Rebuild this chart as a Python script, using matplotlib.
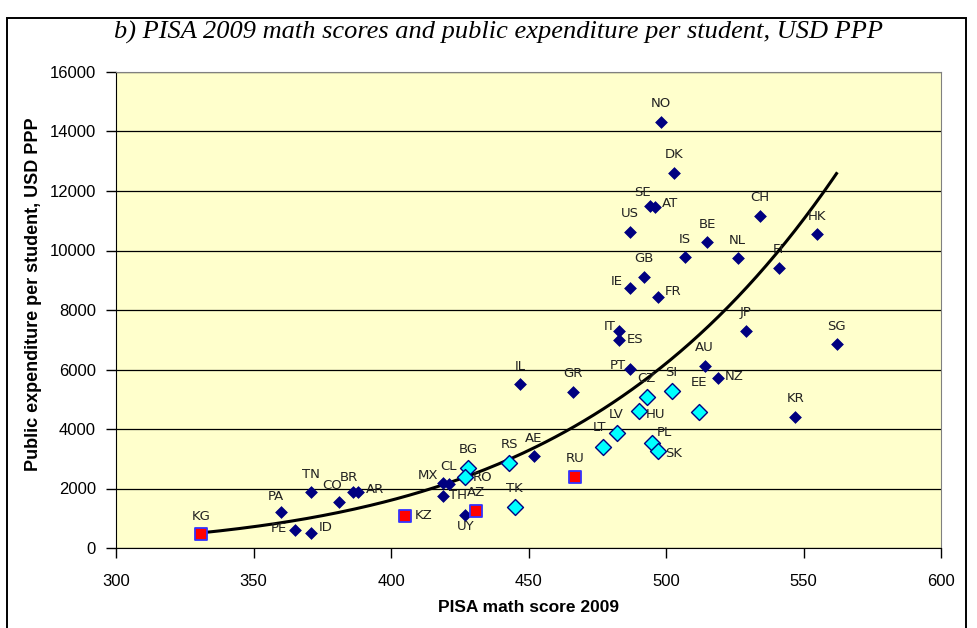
"""PISA 2009 math scores vs public expenditure per student."""

import matplotlib

matplotlib.use("Agg")
import matplotlib.pyplot as plt
import numpy as np
from matplotlib.patches import Rectangle

# OECD / high income countries (navy diamonds)
navy_codes = ["NO", "DK", "SE", "AT", "US", "CH", "HK", "BE", "IS", "NL", "FI",
              "GB", "IE", "FR", "IT", "ES", "JP", "SG", "AU", "NZ", "KR", "PT",
              "IL", "GR", "AE", "MX", "CL", "TH", "UY", "PA", "TN", "CO", "BR",
              "AR", "PE", "ID"]
navy_score = [498, 503, 494, 496, 487, 534, 555, 515, 507, 526, 541,
              492, 487, 497, 483, 483, 529, 562, 514, 519, 547, 487,
              447, 466, 452, 419, 421, 419, 427, 360, 371, 381, 386,
              388, 365, 371]
navy_spend = [14330, 12620, 11500, 11450, 10630, 11170, 10550, 10270, 9780,
              9740, 9420, 9110, 8740, 8430, 7300, 6990, 7300, 6850, 6120,
              5710, 4410, 6030, 5500, 5260, 3090, 2200, 2140, 1750, 1120,
              1200, 1870, 1560, 1870, 1870, 610, 520]

# transition economies (cyan diamonds)
cyan_codes = ["CZ", "SI", "HU", "EE", "LV", "LT", "PL", "SK", "RS", "BG",
              "RO", "TK"]
cyan_score = [493, 502, 490, 512, 482, 477, 495, 497, 443, 428, 427, 445]
cyan_spend = [5090, 5280, 4590, 4580, 3870, 3410, 3520, 3270, 2870, 2700,
              2380, 1390]

# CIS countries (red squares)
red_codes = ["KG", "KZ", "AZ", "RU"]
red_score = [331, 405, 431, 467]
red_spend = [470, 1090, 1260, 2400]

# label offsets in pixels (dx, dy, ha); default is centred above the marker
label_place = {
    "PA": (-5, 16, "center"), "CO": (-7, 16, "center"), "BR": (-4, 15, "center"),
    "AR": (8, 3, "left"), "PE": (-8, 1, "right"), "ID": (7, 5, "left"),
    "MX": (-5, 7, "right"), "TH": (6, 0, "left"), "RO": (7, 0, "left"),
    "UY": (0, -12, "center"), "KZ": (10, 0, "left"), "PT": (-4, 3, "right"),
    "HU": (7, -3, "left"), "LT": (-3, 19, "center"), "PL": (4, 11, "left"),
    "SK": (7, -3, "left"), "EE": (0, 29, "center"), "NZ": (7, 2, "left"),
    "IE": (-8, 6, "right"), "FR": (7, 6, "left"), "IT": (-4, 4, "right"),
    "ES": (7, 1, "left"), "SE": (-7, 13, "center"), "AT": (7, 4, "left"),
}

title = "b) PISA 2009 math scores and public expenditure per student, USD PPP"
sans = ["Liberation Sans", "DejaVu Sans"]

fig = plt.figure(figsize=(9.77, 6.28), dpi=100)
ax = fig.add_axes([116 / 977, 80 / 628, 825 / 977, 476 / 628])
ax.set_facecolor("#FFFFCC")

# outer frame of the chart object (bottom edge is cut off in the original)
fig.patches.append(Rectangle((7 / 977, -0.1), 959 / 977, 1.1 - 18 / 628,
                             transform=fig.transFigure, fill=False,
                             edgecolor="black", linewidth=1.4, zorder=0))

# power trend line fitted on all countries
all_score = np.array(navy_score + cyan_score + red_score, dtype=float)
all_spend = np.array(navy_spend + cyan_spend + red_spend, dtype=float)
b, ln_a = np.polyfit(np.log(all_score), np.log(all_spend), 1)
xs = np.linspace(all_score.min(), all_score.max(), 200)
ax.plot(xs, np.exp(ln_a) * xs ** b, color="black", linewidth=2.2, zorder=3)

ax.scatter(navy_score, navy_spend, marker="D", s=36, color="#000080",
           edgecolors="#000080", linewidths=0.5, zorder=4)
ax.scatter(cyan_score, cyan_spend, marker="D", s=66, color="#00FFFF",
           edgecolors="#000080", linewidths=1.0, zorder=4)
ax.scatter(red_score, red_spend, marker="s", s=85, color="#FF0000",
           edgecolors="#3333FF", linewidths=1.3, zorder=5)

px = 72 / 100
for codes, xv, yv in [(navy_codes, navy_score, navy_spend),
                      (cyan_codes, cyan_score, cyan_spend),
                      (red_codes, red_score, red_spend)]:
    for code, x, y in zip(codes, xv, yv):
        dx, dy, ha = label_place.get(code, (0, 18, "center"))
        ax.annotate(code, (x, y), xytext=(dx * px, dy * px),
                    textcoords="offset points", ha=ha, va="center",
                    fontsize=9.5, family=["DejaVu Sans"], color="#222222",
                    zorder=6)

ax.set_xlim(300, 600)
ax.set_ylim(0, 16000)
ax.set_xticks(np.arange(300, 601, 50))
ax.set_yticks(np.arange(0, 16001, 2000))
ax.yaxis.grid(True, color="black", linewidth=0.9)
ax.set_axisbelow(True)

for side in ["top", "right"]:
    ax.spines[side].set_color("#808080")
for side in ["left", "bottom"]:
    ax.spines[side].set_color("black")

ax.tick_params(axis="both", direction="out", length=7, width=1,
               labelsize=12)
ax.tick_params(axis="x", pad=12)
ax.tick_params(axis="y", pad=7.5)
for lab in ax.get_xticklabels() + ax.get_yticklabels():
    lab.set_family(sans)

ax.set_xlabel("PISA math score 2009", fontsize=12.5, fontweight="bold",
              family=sans, labelpad=8)
ax.set_ylabel("Public expenditure per student, USD PPP", fontsize=13,
              fontweight="bold", family=sans)
ax.yaxis.set_label_coords(-0.090, 0.534)

fig.text(498 / 977, 1 - 32 / 628, title, ha="center", va="center",
         fontsize=19, style="italic",
         family=["Liberation Serif", "DejaVu Serif"])

fig.savefig("out.png", dpi=100)
plt.close(fig)
